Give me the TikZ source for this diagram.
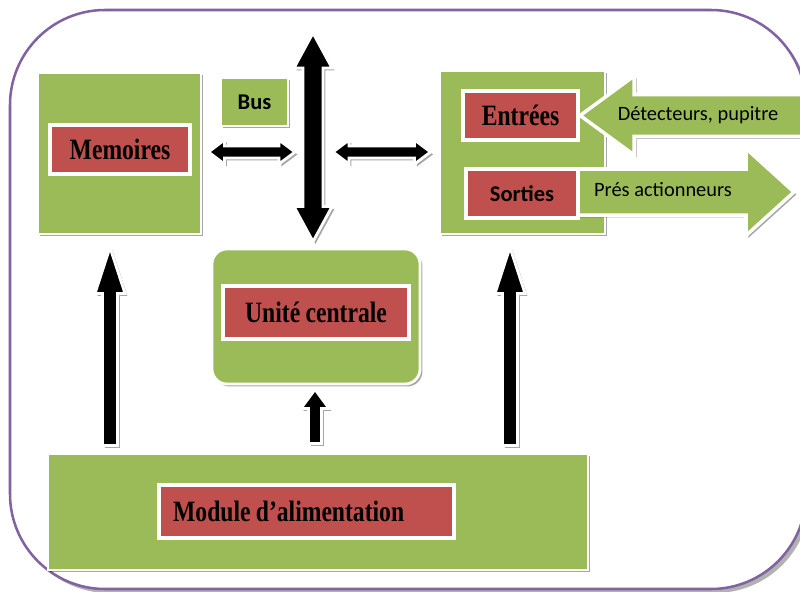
\documentclass[tikz,border=0pt]{standalone}
\usepackage{fontspec}
\setmainfont{Liberation Serif}
\newfontfamily\condserif[FakeStretch=0.8, WordSpace=0.9]{Liberation Serif}
\newfontfamily\calibfont{Carlito}
\usetikzlibrary{calc}
\usetikzlibrary{shadows}

\definecolor{boxgreen}{HTML}{9BBB59}
\definecolor{boxred}{HTML}{C0504D}
\definecolor{framepurple}{HTML}{8064A2}

% block arrow: style, tail, tip, shaft half width, head half width, head length
\newcommand{\blockarrow}[6]{%
	\coordinate (ba-h) at ($(#3)!#6!(#2)$);
	\draw[#1] ($(#2)!#4!90:(#3)$) -- ($(ba-h)!#4!-90:(#2)$) -- ($(ba-h)!#5!-90:(#2)$) -- (#3)
		-- ($(ba-h)!#5!90:(#2)$) -- ($(ba-h)!#4!90:(#2)$) -- ($(#2)!#4!-90:(#3)$) -- cycle;
}
% same with a head at both ends
\newcommand{\dblarrow}[6]{%
	\coordinate (da-h1) at ($(#2)!#6!(#3)$);
	\coordinate (da-h2) at ($(#3)!#6!(#2)$);
	\draw[#1] (#2) -- ($(da-h1)!#5!90:(#3)$) -- ($(da-h1)!#4!90:(#3)$) -- ($(da-h2)!#4!-90:(#2)$)
		-- ($(da-h2)!#5!-90:(#2)$) -- (#3) -- ($(da-h2)!#5!90:(#2)$) -- ($(da-h2)!#4!90:(#2)$)
		-- ($(da-h1)!#4!-90:(#3)$) -- ($(da-h1)!#5!-90:(#3)$) -- cycle;
}

\begin{document}
\begin{tikzpicture}[x=0.025cm, y=-0.025cm,
		boxshadow/.style={drop shadow={shadow xshift=0.06cm, shadow yshift=-0.06cm, fill=black, opacity=0.35}},
		greenbox/.style={boxshadow, fill=boxgreen, draw=white, line width=2pt, inner sep=0pt},
		redbox/.style={boxshadow, fill=boxred, draw=white, line width=3pt, inner sep=0pt,
			font=\condserif\bfseries\fontsize{21}{24}\selectfont},
		sanslabel/.style={font=\calibfont\bfseries\fontsize{16}{19}\selectfont},
		arrowlabel/.style={font=\calibfont\fontsize{14.5}{17}\selectfont},
		blackarrow/.style={boxshadow, fill=black, draw=white, line width=2pt},
		greenarrow/.style={boxshadow, fill=boxgreen, draw=white, line width=2.5pt}]
		\useasboundingbox (0,0) rectangle (800,591);

		% Frame
		\draw[framepurple, fill=white, line width=1.8pt, rounded corners=2.375cm,
			drop shadow={shadow xshift=0.1cm, shadow yshift=-0.1cm, fill=black, opacity=0.3}]
			(10,10) rectangle (806,589);

		% Green blocks
		\node[greenbox, minimum width=4.075cm, minimum height=4.025cm] (mem) at (119.5,153.5) {};
		\node[greenbox, sanslabel, minimum width=1.675cm, minimum height=1.2cm] (bus) at (254.5,102) {Bus};
		\node[greenbox, minimum width=4.125cm, minimum height=4.075cm] (io) at (522.5,152.5) {};
		\node[greenbox, rounded corners=0.375cm, minimum width=5.2cm, minimum height=3.375cm] (cpu) at (316,316.5) {};
		\node[greenbox, minimum width=13.5cm, minimum height=2.9cm] (alim) at (318,512) {};

		% Outside signals
		\coordinate (det-tail) at (815,115.5);
		\coordinate (act-tip) at (794,192);
		\coordinate (act-tail) at (573,192);
		\blockarrow{greenarrow}{act-tail}{act-tip}{0.575cm}{1.0875cm}{1.2cm}

		% Red blocks
		\node[redbox, minimum width=3.5cm, minimum height=1.225cm] (memr) at (120,149.5) {Memoires};
		\node[redbox, minimum width=2.875cm, minimum height=1.225cm] (inr) at (520.5,115.5) {Entrées};
		\node[redbox, sanslabel, minimum width=2.8cm, minimum height=1.225cm] (outr) at (522,193.5) {Sorties};
		\node[redbox, minimum width=4.65cm, minimum height=1.325cm] (cpur) at (316,312.5) {Unité centrale};
		\node[redbox, minimum width=7.375cm, minimum height=1.325cm] (alimr) at (306.5,511.5) {};
		\node[font=\condserif\bfseries\fontsize{21}{24}\selectfont, anchor=west, inner sep=0pt]
			(alimtxt) at ([xshift=0.4cm]alimr.west) {Module d’alimentation};

		\blockarrow{greenarrow}{det-tail}{inr.east}{0.525cm}{0.9875cm}{1.35cm}
		\node[arrowlabel] (dettxt) at (698,115) {Détecteurs, pupitre};
		\node[arrowlabel] (acttxt) at (663,190) {Prés actionneurs};

		% Bus arrows
		\coordinate (bus-top) at (313,33);
		\coordinate (bus-bot) at ($(cpu.north)+(-3,-6)$);
		\coordinate (bus-l) at (295,152);
		\coordinate (bus-r) at (333,152);
		\dblarrow{blackarrow}{bus-top}{bus-bot}{0.25cm}{0.475cm}{0.875cm}
		\dblarrow{blackarrow}{$(mem.east)+(6,-1.5)$}{bus-l}{0.15cm}{0.3cm}{0.4cm}
		\dblarrow{blackarrow}{bus-r}{$(io.west)+(-8,-0.5)$}{0.15cm}{0.3cm}{0.4cm}

		% Power supply
		\blockarrow{blackarrow}{$(alim.north)+(-208,-7)$}{$(mem.south)+(-9.5,12)$}{0.1875cm}{0.375cm}{1.15cm}
		\blockarrow{blackarrow}{$(alim.north)+(-3,-9)$}{$(cpu.south)+(-1,4)$}{0.1625cm}{0.35cm}{0.475cm}
		\blockarrow{blackarrow}{$(alim.north)+(192,-7)$}{$(io.south)+(-12.5,12)$}{0.1875cm}{0.375cm}{1.15cm}
	\end{tikzpicture}
\end{document}
